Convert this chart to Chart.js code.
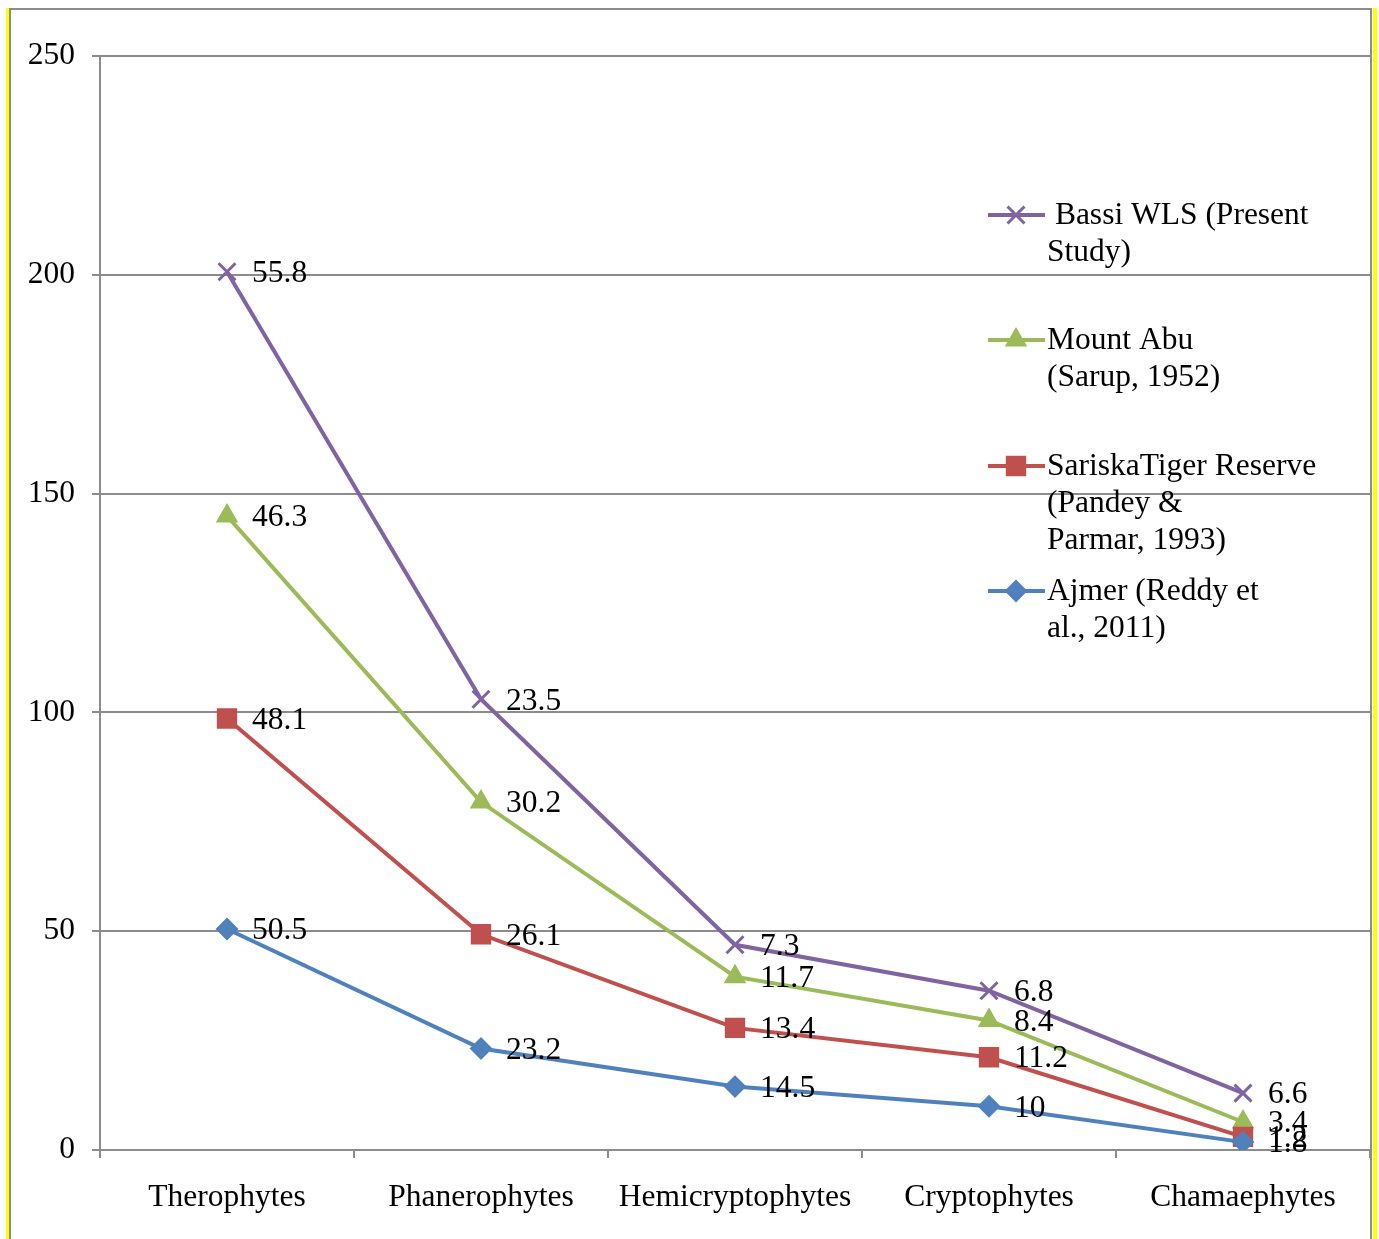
<!DOCTYPE html>
<html>
<head>
<meta charset="utf-8">
<script src="https://cdn.jsdelivr.net/npm/chart.js@4.4.1/dist/chart.umd.min.js"></script>
<style>
html,body{margin:0;padding:0;background:#fff;}
#wrap{position:relative;width:1379px;height:1239px;overflow:hidden;}
canvas{display:block;}
</style>
</head>
<body>
<div id="wrap"><canvas id="c" width="1385" height="1239"></canvas></div>
<script>
const categories = ["Therophytes","Phanerophytes","Hemicryptophytes","Cryptophytes","Chamaephytes"];
const ajmer   = [50.5, 23.2, 14.5, 10, 1.8];
const sariska = [48.1, 26.1, 13.4, 11.2, 1.2];
const mountAbu= [46.3, 30.2, 11.7, 8.4, 3.4];
const bassi   = [55.8, 23.5, 7.3, 6.8, 6.6];
const yTicks  = [0, 50, 100, 150, 200, 250];

const legendLabels = {
  bassi: [" Bassi WLS (Present", "Study)"],
  abu: ["Mount Abu", "(Sarup, 1952)"],
  sariska: ["SariskaTiger Reserve", "(Pandey &", "Parmar, 1993)"],
  ajmer: ["Ajmer (Reddy et", "al., 2011)"]
};

const FONT = "'Liberation Serif','Times New Roman',serif";
const FS = 31.5;

const styles = [
  {key:'ajmer', color:'#4F81BD', style:'rectRot', r:10, bw:2, legendY:591},
  {key:'sariska', color:'#C0504D', style:'rect', r:13, bw:2, legendY:466},
  {key:'abu', color:'#9BBB59', style:'triangle', r:11, bw:2, legendY:340},
  {key:'bassi', color:'#8064A2', style:'crossRot', r:12, bw:3, legendY:215}
];
const seriesData = [ajmer, sariska, mountAbu, bassi];

const datasets = styles.map((s,i)=>({
  label: legendLabels[s.key].join(' '),
  data: seriesData[i],
  borderColor: s.color,
  backgroundColor: s.color,
  pointBackgroundColor: s.color,
  pointBorderColor: s.color,
  pointStyle: s.style,
  pointRadius: s.r,
  pointHoverRadius: s.r,
  pointBorderWidth: s.bw,
  borderWidth: 4,
  fill: false,
  tension: 0
}));

const framePlugin = {
  id:'frame',
  beforeDraw(chart){
    const ctx = chart.ctx;
    ctx.save();
    ctx.fillStyle = '#fff';
    ctx.fillRect(0,0,chart.width,chart.height);
    ctx.restore();
  },
  afterDraw(chart){
    const ctx = chart.ctx;
    ctx.save();
    ctx.fillStyle = '#fff';
    ctx.fillRect(1372,0,chart.width-1372,chart.height);
    ctx.fillStyle = '#FFFF00';
    ctx.fillRect(6,8,3,chart.height-8);
    ctx.fillRect(1373,8,4,chart.height-8);
    ctx.fillStyle = '#8c8c8c';
    ctx.fillRect(9,8,2,chart.height-8);
    ctx.fillRect(1370,8,2,chart.height-8);
    ctx.fillRect(9,8,1363,2);
    ctx.restore();
  }
};

const labelPlugin = {
  id:'vlabels',
  afterDatasetsDraw(chart){
    const ctx = chart.ctx;
    ctx.save();
    ctx.font = FS + 'px ' + FONT;
    ctx.fillStyle = '#000';
    ctx.textAlign = 'left';
    ctx.textBaseline = 'middle';
    chart.data.datasets.forEach((ds,di)=>{
      const meta = chart.getDatasetMeta(di);
      meta.data.forEach((pt,i)=>{
        ctx.fillText(String(ds.data[i]), pt.x + 25, pt.y + 2);
      });
    });
    ctx.restore();
  },
  afterDraw(chart){
    const ctx = chart.ctx;
    ctx.save();
    ctx.font = FS + 'px ' + FONT;
    ctx.textAlign = 'left';
    ctx.textBaseline = 'middle';
    styles.forEach(s=>{
      const y = s.legendY;
      ctx.strokeStyle = s.color;
      ctx.lineWidth = 4;
      ctx.beginPath();
      ctx.moveTo(988,y); ctx.lineTo(1045,y); ctx.stroke();
      ctx.fillStyle = s.color;
      ctx.lineWidth = s.bw;
      Chart.helpers.drawPoint(ctx,{pointStyle:s.style, radius:s.r, borderWidth:s.bw, rotation:0}, 1016, y);
      ctx.fillStyle = '#000';
      legendLabels[s.key].forEach((line,li)=>{
        ctx.fillText(line, 1047, y + 1 + li*37);
      });
    });
    ctx.restore();
  }
};

new Chart(document.getElementById('c'), {
  type:'line',
  data:{labels:categories, datasets},
  options:{
    responsive:false,
    devicePixelRatio:1,
    animation:false,
    events:[],
    layout:{padding:{top:56,right:3,bottom:0,left:0}},
    plugins:{legend:{display:false},tooltip:{enabled:false}},
    scales:{
      x:{
        offset:true,
        grid:{offset:true, drawOnChartArea:false, drawTicks:true, tickLength:8, color:'#8c8c8c', lineWidth:2},
        border:{color:'#8c8c8c', width:2},
        ticks:{font:{family:FONT,size:FS}, color:'#000', padding:21, maxRotation:0, autoSkip:false},
        afterFit(scale){ scale.height = 89; }
      },
      y:{
        stacked:true,
        min:0, max:250,
        afterBuildTicks(scale){ scale.ticks = yTicks.map(v=>({value:v})); },
        grid:{color:'#8c8c8c', lineWidth:2, tickLength:8},
        border:{color:'#8c8c8c', width:2},
        ticks:{font:{family:FONT,size:FS}, color:'#000', padding:17},
        afterFit(scale){ scale.width = 100; }
      }
    }
  },
  plugins:[framePlugin, labelPlugin]
});
</script>
</body>
</html>
